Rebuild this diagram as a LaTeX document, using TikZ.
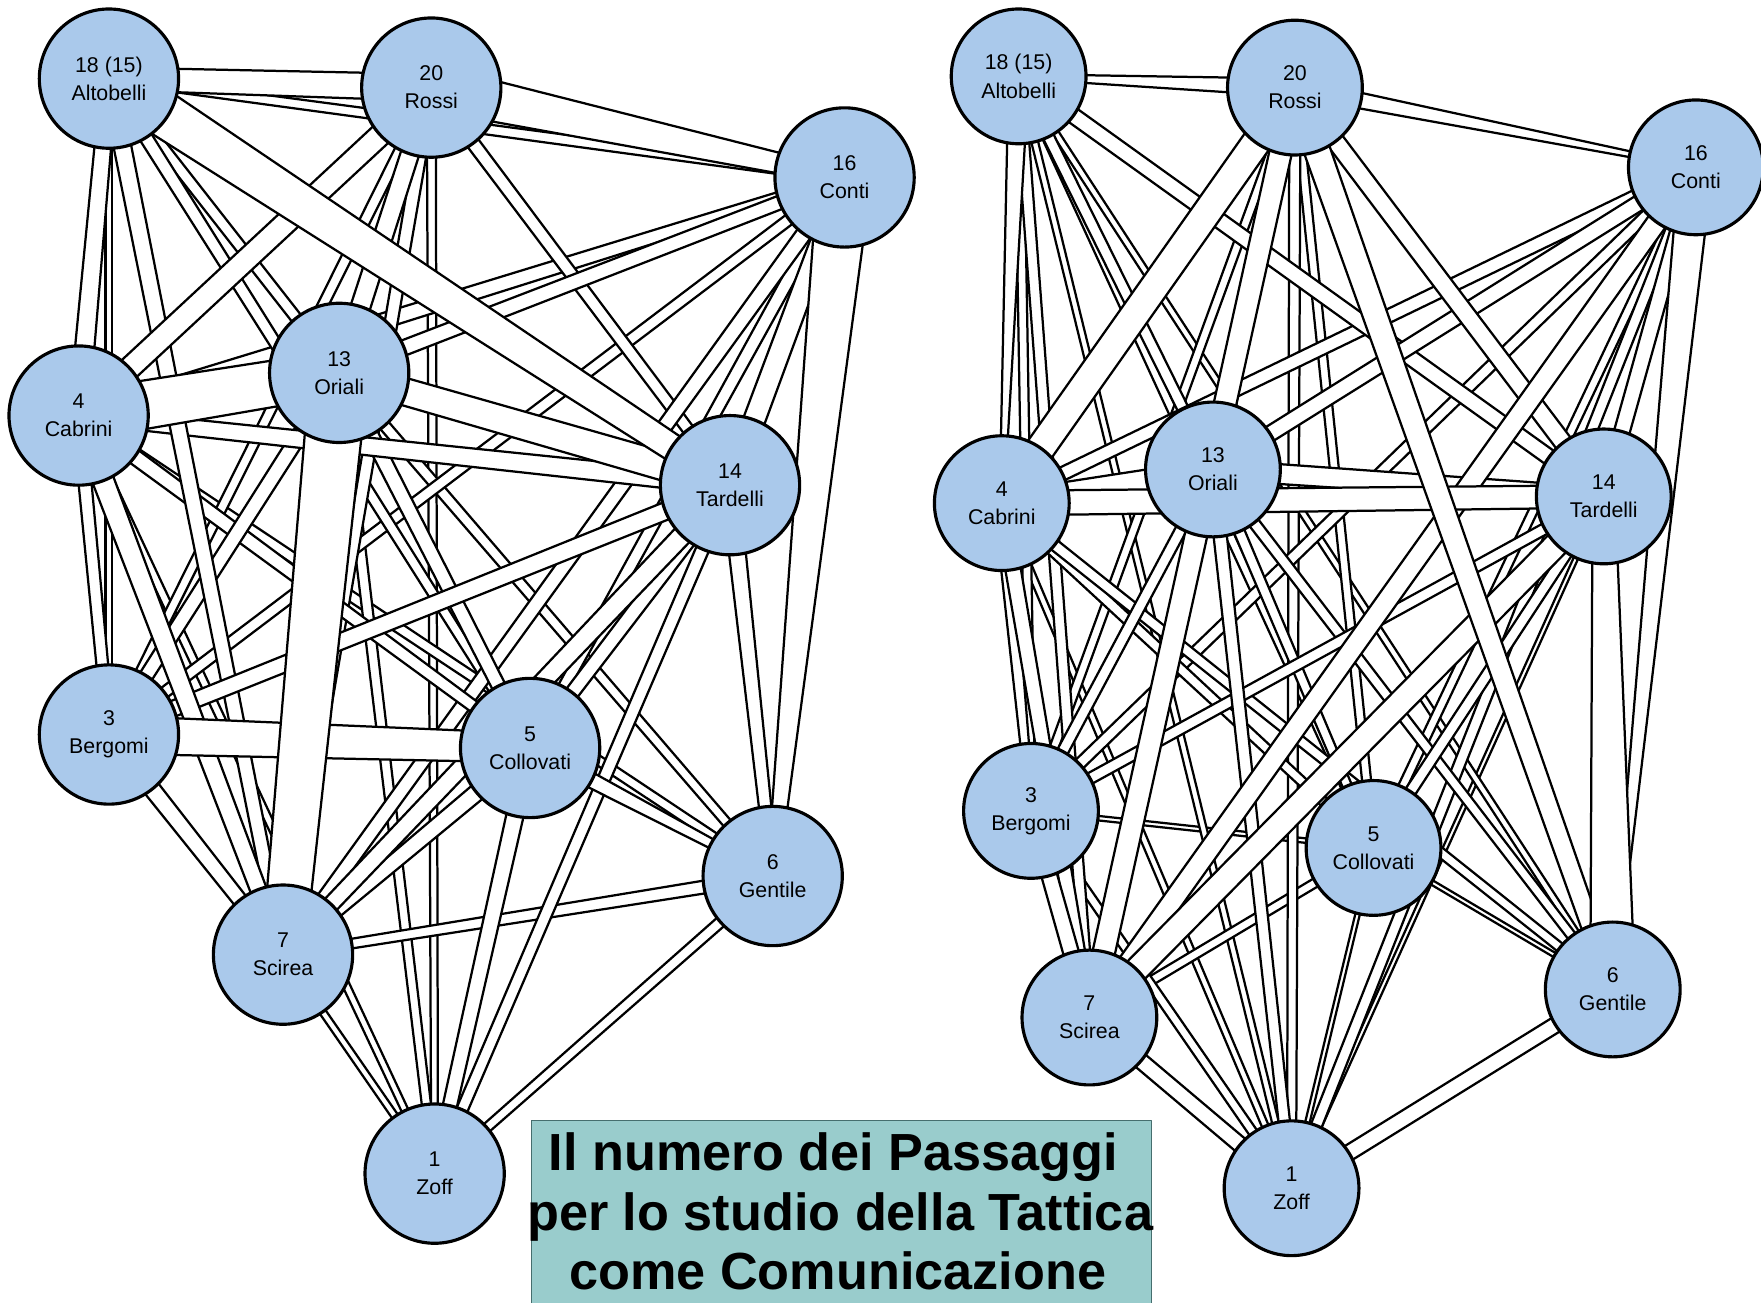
\documentclass[tikz,border=0pt]{standalone}
\usepackage{fontspec}
\setmainfont{Liberation Sans}
\usetikzlibrary{calc,backgrounds}
\definecolor{plblue}{RGB}{170,201,235}
\definecolor{boxteal}{RGB}{153,204,204}
\definecolor{boxline}{RGB}{70,110,110}

\tikzset{
  player/.style={circle,draw=black,line width=2.8pt,fill=plblue,inner sep=0pt,
    minimum size=124pt,align=center,font=\fontsize{19}{25}\selectfont},
  smallplayer/.style={player,minimum size=120pt},
  passlink/.style={draw=black,fill=white,line width=2pt,line join=miter},
  titleline/.style={anchor=base,inner sep=0pt,font=\fontsize{46.5}{55}\selectfont\bfseries}
}
% wedge between two players, widths at each end
\newcommand{\passband}[4]{%
  \draw[passlink] ($(#1)!0.5*#3pt!90:(#2)$) -- ($(#2)!0.5*#4pt!-90:(#1)$)
    -- ($(#2)!0.5*#4pt!90:(#1)$) -- ($(#1)!0.5*#3pt!-90:(#2)$) -- cycle;}

\begin{document}
\begin{tikzpicture}[x=1pt,y=-1pt,line cap=round,line join=round]
\useasboundingbox (0,0) rectangle (1568,1160);

% left team
\node[player] (L-Alt) at (97,70) {18 (15)\\Altobelli};
\node[player] (L-Ros) at (384,78) {20\\Rossi};
\node[player] (L-Con) at (752,158) {16\\Conti};
\node[player] (L-Cab) at (70,370) {4\\Cabrini};
\node[player] (L-Ori) at (302,332) {13\\Oriali};
\node[player] (L-Tar) at (650,432) {14\\Tardelli};
\node[player] (L-Ber) at (97,654) {3\\Bergomi};
\node[player] (L-Col) at (472,666) {5\\Collovati};
\node[player] (L-Gen) at (688,780) {6\\Gentile};
\node[player] (L-Sci) at (252,850) {7\\Scirea};
\node[player] (L-Zof) at (387,1045) {1\\Zoff};

% right team
\node[smallplayer] (R-Alt) at (907,68) {18 (15)\\Altobelli};
\node[smallplayer] (R-Ros) at (1153,78) {20\\Rossi};
\node[smallplayer] (R-Con) at (1510,149) {16\\Conti};
\node[smallplayer] (R-Cab) at (892,448) {4\\Cabrini};
\node[smallplayer] (R-Ori) at (1080,418) {13\\Oriali};
\node[smallplayer] (R-Tar) at (1428,442) {14\\Tardelli};
\node[smallplayer] (R-Ber) at (918,722) {3\\Bergomi};
\node[smallplayer] (R-Col) at (1223,755) {5\\Collovati};
\node[smallplayer] (R-Gen) at (1436,881) {6\\Gentile};
\node[smallplayer] (R-Sci) at (970,906) {7\\Scirea};
\node[smallplayer] (R-Zof) at (1150,1058) {1\\Zoff};

\begin{pgfonlayer}{background}
% left passes
\passband{L-Sci}{L-Zof}{6}{6}
\passband{L-Alt}{L-Ber}{6}{6}
\passband{L-Ros}{L-Zof}{8}{6}
\passband{L-Cab}{L-Zof}{8}{6}
\passband{L-Alt}{L-Con}{8}{10}
\passband{L-Gen}{L-Zof}{10}{8}
\passband{L-Cab}{L-Gen}{10}{8}
\passband{L-Ori}{L-Gen}{10}{8}
\passband{L-Ori}{L-Zof}{10}{8}
\passband{L-Alt}{L-Ori}{10}{10}
\passband{L-Ros}{L-Ber}{10}{8}
\passband{L-Con}{L-Ber}{10}{10}
\passband{L-Con}{L-Cab}{10}{16}
\passband{L-Alt}{L-Col}{12}{8}
\passband{L-Gen}{L-Sci}{12}{8}
\passband{L-Ros}{L-Tar}{12}{10}
\passband{L-Ros}{L-Sci}{12}{10}
\passband{L-Con}{L-Col}{12}{10}
\passband{L-Con}{L-Ori}{12}{14}
\passband{L-Tar}{L-Zof}{12}{10}
\passband{L-Cab}{L-Ber}{12}{10}
\passband{L-Con}{L-Sci}{14}{12}
\passband{L-Cab}{L-Col}{14}{10}
\passband{L-Ori}{L-Ber}{14}{12}
\passband{L-Ori}{L-Col}{14}{12}
\passband{L-Tar}{L-Col}{14}{12}
\passband{L-Col}{L-Gen}{16}{6}
\passband{L-Alt}{L-Cab}{14}{18}
\passband{L-Cab}{L-Tar}{14}{18}
\passband{L-Alt}{L-Sci}{16}{12}
\passband{L-Ros}{L-Ori}{16}{18}
\passband{L-Tar}{L-Ber}{16}{14}
\passband{L-Tar}{L-Gen}{16}{10}
\passband{L-Ber}{L-Sci}{16}{12}
\passband{L-Col}{L-Sci}{16}{12}
\passband{L-Col}{L-Zof}{16}{12}
\passband{L-Tar}{L-Sci}{18}{14}
\passband{L-Con}{L-Tar}{18}{20}
\passband{L-Cab}{L-Sci}{20}{14}
\passband{L-Ros}{L-Cab}{20}{20}
\passband{L-Alt}{L-Ros}{20}{24}
\passband{L-Ori}{L-Tar}{24}{26}
\passband{L-Ber}{L-Col}{34}{26}
\passband{L-Ros}{L-Con}{40}{14}
\passband{L-Con}{L-Gen}{48}{10}
\passband{L-Alt}{L-Tar}{42}{22}
\passband{L-Cab}{L-Ori}{44}{40}
\passband{L-Ori}{L-Sci}{52}{38}
% right passes
\passband{R-Col}{R-Zof}{4}{4}
\passband{R-Col}{R-Gen}{4}{4}
\passband{R-Ber}{R-Col}{4}{4}
\passband{R-Tar}{R-Zof}{4}{4}
\passband{R-Alt}{R-Zof}{6}{6}
\passband{R-Alt}{R-Gen}{6}{6}
\passband{R-Cab}{R-Zof}{6}{6}
\passband{R-Alt}{R-Ber}{8}{8}
\passband{R-Alt}{R-Col}{8}{8}
\passband{R-Ros}{R-Col}{8}{8}
\passband{R-Ros}{R-Ber}{8}{8}
\passband{R-Con}{R-Col}{8}{8}
\passband{R-Sci}{R-Col}{8}{8}
\passband{R-Ber}{R-Zof}{8}{8}
\passband{R-Ros}{R-Zof}{10}{8}
\passband{R-Alt}{R-Ori}{10}{10}
\passband{R-Alt}{R-Sci}{10}{10}
\passband{R-Con}{R-Ber}{10}{10}
\passband{R-Con}{R-Zof}{10}{10}
\passband{R-Cab}{R-Col}{10}{8}
\passband{R-Cab}{R-Gen}{10}{8}
\passband{R-Ori}{R-Ber}{10}{10}
\passband{R-Ori}{R-Col}{10}{8}
\passband{R-Ori}{R-Gen}{10}{8}
\passband{R-Tar}{R-Ber}{10}{10}
\passband{R-Tar}{R-Col}{10}{10}
\passband{R-Ori}{R-Zof}{12}{10}
\passband{R-Con}{R-Cab}{12}{12}
\passband{R-Alt}{R-Tar}{14}{14}
\passband{R-Con}{R-Ori}{14}{14}
\passband{R-Con}{R-Tar}{14}{14}
\passband{R-Cab}{R-Ber}{14}{6}
\passband{R-Cab}{R-Sci}{14}{12}
\passband{R-Ori}{R-Sci}{14}{14}
\passband{R-Ber}{R-Sci}{14}{14}
\passband{R-Sci}{R-Zof}{14}{14}
\passband{R-Gen}{R-Zof}{14}{14}
\passband{R-Alt}{R-Ros}{4}{16}
\passband{R-Ros}{R-Con}{16}{3}
\passband{R-Ros}{R-Ori}{16}{16}
\passband{R-Ros}{R-Tar}{16}{16}
\passband{R-Alt}{R-Cab}{18}{4}
\passband{R-Ori}{R-Tar}{18}{16}
\passband{R-Con}{R-Sci}{18}{18}
\passband{R-Cab}{R-Ori}{20}{18}
\passband{R-Ros}{R-Sci}{20}{20}
\passband{R-Cab}{R-Tar}{22}{20}
\passband{R-Tar}{R-Sci}{22}{22}
\passband{R-Ros}{R-Gen}{24}{16}
\passband{R-Ros}{R-Cab}{26}{26}
\passband{R-Con}{R-Gen}{30}{4}
\passband{R-Tar}{R-Gen}{20}{40}
\end{pgfonlayer}

% caption box
\draw[boxline,fill=boxteal,line width=1pt] (473,998) rectangle (1025,1175);
\node[titleline] (title1) at (742,1042) {Il numero dei Passaggi};
\node[titleline] (title2) at (748,1096) {per lo studio della Tattica};
\node[titleline] (title3) at (746,1148) {come Comunicazione};
\end{tikzpicture}
\end{document}
